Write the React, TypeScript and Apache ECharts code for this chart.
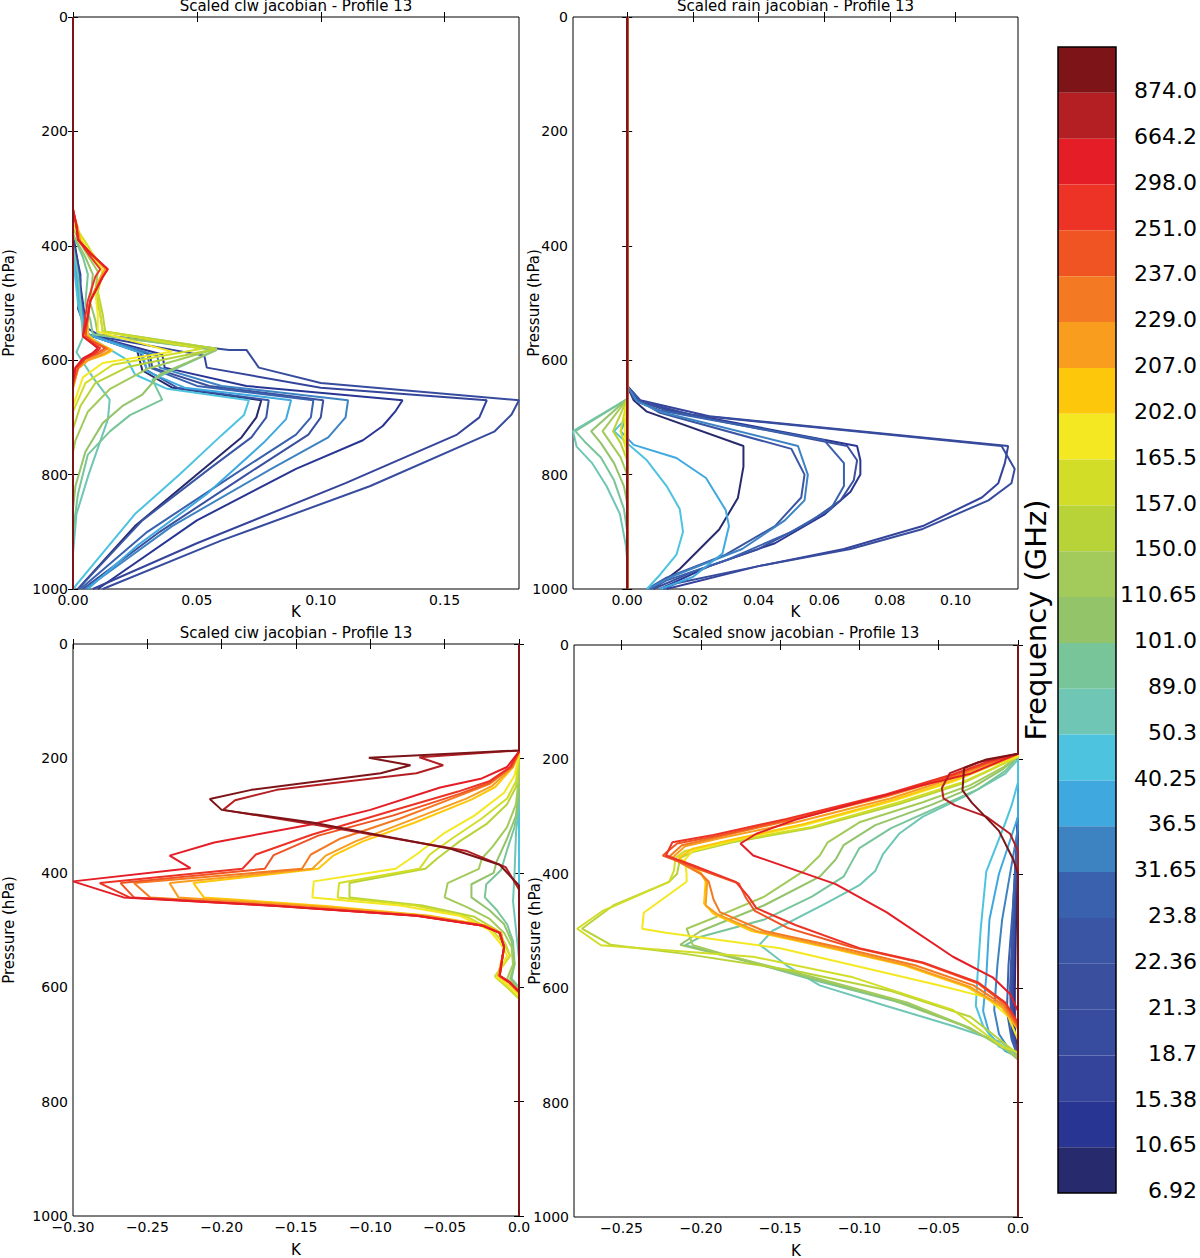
import React, { useEffect, useRef } from 'react';
import * as echarts from 'echarts';

// ---------------- data ----------------
// channel index 0 = 6.92 GHz ... 24 = 874.0 GHz
const freqLabels = ['6.92', '10.65', '15.38', '18.7', '21.3', '22.36', '23.8', '31.65', '36.5', '40.25', '50.3', '89.0', '101.0', '110.65', '150.0', '157.0', '165.5', '202.0', '207.0', '229.0', '237.0', '251.0', '298.0', '664.2', '874.0'];
const channelColors = ['#272a6c', '#283593', '#34449b', '#374c9e', '#3a509e', '#3a55a4', '#3a61ad', '#3d83c2', '#3fa9df', '#4dc3df', '#6fc6b5', '#79c59a', '#93c46a', '#a2cb5b', '#b8d337', '#d2dd28', '#f3e822', '#fdc70b', '#f89d1e', '#f37a22', '#f05423', '#ec3325', '#e41d26', '#b41f24', '#7d1418'];

const pressureTicks = [0, 200, 400, 600, 800, 1000];
const clwTicks = [0, 0.05, 0.1, 0.15];
const rainTicks = [0, 0.02, 0.04, 0.06, 0.08, 0.1];
const ciwTicks = [-0.3, -0.25, -0.2, -0.15, -0.1, -0.05, 0];
const snowTicks = [-0.25, -0.2, -0.15, -0.1, -0.05, 0];

type Prof = number[][]; // [K, hPa]

const clwProfiles: Prof[] = [
  [[0, 380], [0.002, 430], [0.003, 480], [0.004, 520], [0.006, 555], [0.026, 585], [0.028, 618], [0.040, 648], [0.076, 670], [0.074, 700], [0.068, 735], [0.050, 800], [0.025, 890], [0.002, 1000]],
  [[0, 390], [0.002, 440], [0.004, 500], [0.005, 530], [0.006, 555], [0.036, 590], [0.037, 613], [0.070, 645], [0.133, 670], [0.130, 690], [0.125, 715], [0.117, 740], [0.090, 790], [0.050, 880], [0.010, 1000]],
  [[0, 390], [0.003, 450], [0.003, 500], [0.005, 535], [0.006, 555], [0.053, 592], [0.054, 613], [0.100, 648], [0.167, 670], [0.164, 700], [0.155, 730], [0.110, 815], [0.050, 920], [0.008, 1000]],
  [[0, 390], [0.002, 450], [0.004, 510], [0.006, 545], [0.010, 555], [0.063, 582], [0.070, 582], [0.075, 613], [0.100, 640], [0.180, 670], [0.177, 695], [0.170, 725], [0.120, 820], [0.060, 915], [0.012, 1000]],
  [[0, 400], [0.002, 450], [0.003, 500], [0.006, 555], [0.031, 590], [0.032, 613], [0.055, 645], [0.101, 670], [0.100, 700], [0.095, 730], [0.070, 800], [0.035, 900], [0.004, 1000]],
  [[0, 400], [0.003, 460], [0.002, 510], [0.006, 555], [0.027, 585], [0.030, 618], [0.042, 648], [0.079, 670], [0.078, 700], [0.072, 735], [0.055, 790], [0.028, 880], [0.002, 1000]],
  [[0, 400], [0.002, 470], [0.004, 520], [0.006, 555], [0.030, 588], [0.031, 613], [0.050, 645], [0.097, 670], [0.096, 700], [0.090, 730], [0.065, 800], [0.030, 900], [0.003, 1000]],
  [[0, 410], [0.002, 470], [0.004, 520], [0.006, 555], [0.034, 592], [0.035, 613], [0.060, 645], [0.111, 670], [0.110, 700], [0.103, 735], [0.080, 790], [0.040, 890], [0.005, 1000]],
  [[0, 410], [0.002, 480], [0.004, 530], [0.006, 555], [0.028, 588], [0.030, 620], [0.045, 648], [0.088, 670], [0.086, 703], [0.077, 744], [0.054, 834], [0.026, 924], [0.006, 1000]],
  [[0, 420], [0.002, 500], [0.004, 540], [0.006, 558], [0.022, 600], [0.025, 625], [0.038, 650], [0.071, 670], [0.069, 696], [0.060, 731], [0.043, 800], [0.025, 869], [0.008, 958], [0, 1000]],
  [[0, 400], [0.002, 450], [0.003, 500], [0.004, 560], [0.0014, 586], [0.008, 630], [0.0148, 669], [0.0141, 703], [0.0063, 800], [0.0014, 869], [0, 938]],
  [[0, 380], [0.004, 420], [0.006, 450], [0.005, 500], [0.007, 530], [0.008, 555], [0.058, 582], [0.032, 634], [0.036, 669], [0.023, 696], [0.015, 724], [0.006, 765], [0.002, 834], [0, 900]],
  [[0, 380], [0.005, 420], [0.008, 450], [0.007, 500], [0.009, 530], [0.010, 555], [0.058, 582], [0.035, 625], [0.028, 660], [0.020, 680], [0.012, 710], [0.005, 760], [0.001, 820], [0, 860]],
  [[0, 370], [0.005, 410], [0.010, 445], [0.009, 480], [0.011, 520], [0.012, 550], [0.058, 580], [0.030, 615], [0.015, 650], [0.006, 690], [0.001, 740], [0, 760]],
  [[0, 370], [0.006, 410], [0.012, 445], [0.010, 480], [0.012, 520], [0.013, 550], [0.058, 580], [0.022, 612], [0.009, 640], [0.003, 680], [0, 720]],
  [[0, 360], [0.006, 400], [0.012, 445], [0.010, 480], [0.011, 520], [0.012, 550], [0.052, 580], [0.016, 608], [0.005, 640], [0, 690]],
  [[0, 360], [0.005, 400], [0.012, 445], [0.009, 480], [0.010, 520], [0.010, 550], [0.040, 585], [0.012, 605], [0.004, 630], [0, 680]],
  [[0, 340], [0.002, 370], [0.003, 395], [0.008, 415], [0.013, 441], [0.011, 456], [0.007, 496], [0.006, 523], [0.006, 555], [0.009, 567], [0.016, 583], [0.013, 590], [0.006, 600], [0.002, 615], [0, 650]],
  [[0, 340], [0.002, 370], [0.003, 395], [0.008, 415], [0.013, 441], [0.011, 456], [0.007, 496], [0.006, 523], [0.005, 555], [0.008, 567], [0.015, 583], [0.012, 590], [0.006, 600], [0.002, 615], [0, 648]],
  [[0, 338], [0.0015, 368], [0.0025, 392], [0.007, 414], [0.014, 441], [0.012, 455], [0.007, 496], [0.006, 523], [0.005, 557], [0.008, 567], [0.014, 580], [0.011, 588], [0.005, 598], [0.002, 614], [0, 645]],
  [[0, 337], [0.0014, 365], [0.002, 389], [0.007, 413], [0.014, 441], [0.012, 454], [0.007, 496], [0.006, 523], [0.005, 558], [0.007, 565], [0.013, 579], [0.010, 587], [0.005, 597], [0.002, 613], [0, 640]],
  [[0, 337], [0.0014, 365], [0.002, 389], [0.006, 413], [0.011, 441], [0.009, 454], [0.006, 496], [0.005, 523], [0.004, 558], [0.006, 565], [0.011, 579], [0.009, 587], [0.005, 597], [0.001, 613], [0, 640]],
  [[0, 335], [0.0014, 365], [0.002, 389], [0.007, 413], [0.014, 441], [0.012, 454], [0.007, 496], [0.006, 523], [0.004, 558], [0.006, 565], [0.010, 579], [0.008, 587], [0.004, 597], [0.001, 613], [0, 635]],
  [],
  [],
];

const rainProfiles: Prof[] = [
  [[0, 645], [0.002, 670], [0.006, 690], [0.0354, 750], [0.0354, 786], [0.0337, 841], [0.028, 896], [0.016, 965], [0.008, 1000]],
  [[0, 645], [0.003, 670], [0.015, 690], [0.070, 750], [0.071, 775], [0.071, 800], [0.068, 830], [0.060, 870], [0.045, 920], [0.025, 960], [0.010, 1000]],
  [[0, 645], [0.004, 670], [0.025, 698], [0.116, 750], [0.115, 780], [0.113, 815], [0.108, 840], [0.090, 890], [0.066, 930], [0.040, 960], [0.012, 1000]],
  [[0, 645], [0.002, 668], [0.020, 696], [0.114, 750], [0.118, 790], [0.117, 815], [0.110, 845], [0.090, 895], [0.068, 930], [0.040, 960], [0.015, 990], [0.011, 1000]],
  [[0, 645], [0.004, 672], [0.012, 688], [0.067, 750], [0.070, 775], [0.069, 810], [0.065, 845], [0.055, 885], [0.040, 930], [0.020, 970], [0.008, 1000]],
  [[0, 645], [0.004, 672], [0.010, 692], [0.050, 755], [0.054, 800], [0.053, 840], [0.045, 890], [0.030, 940], [0.012, 980], [0.006, 1000]],
  [[0, 645], [0.003, 672], [0.010, 688], [0.060, 740], [0.066, 780], [0.066, 820], [0.062, 860], [0.050, 900], [0.030, 950], [0.012, 985], [0.007, 1000]],
  [[0, 645], [0.003, 672], [0.010, 690], [0.052, 750], [0.055, 800], [0.054, 845], [0.048, 880], [0.035, 930], [0.015, 975], [0.006, 1000]],
  [[0, 700], [-0.002, 724], [0.002, 748], [0.015, 771], [0.024, 806], [0.030, 862], [0.031, 890], [0.029, 938], [0.020, 979], [0.010, 1000]],
  [[0, 700], [-0.004, 724], [0.0, 745], [0.006, 775], [0.012, 820], [0.016, 860], [0.017, 900], [0.015, 940], [0.010, 975], [0.006, 1000]],
  [[0, 668], [-0.0165, 724], [-0.0154, 751], [-0.0108, 779], [-0.0063, 820], [-0.0022, 869], [-0.0004, 924], [0, 950]],
  [[0, 668], [-0.0158, 724], [-0.013, 742], [-0.008, 770], [-0.004, 810], [-0.001, 860], [0, 900]],
  [[0, 668], [-0.011, 724], [-0.008, 745], [-0.004, 780], [-0.001, 820], [0, 850]],
  [[0, 668], [-0.0075, 724], [-0.005, 745], [-0.002, 770], [0, 800]],
  [[0, 668], [-0.0043, 724], [-0.002, 745], [0, 775]],
  [[0, 668], [-0.002, 724], [0, 760]],
  [[0, 660], [-0.0008, 720], [0, 780]],
  [], [], [], [], [], [], [], [],
];

const ciwProfiles: Prof[] = [
  [], [], [], [], [], [], [], [], [], [],
  [[0, 280], [-0.002, 330], [-0.003, 400], [-0.004, 450], [-0.002, 500], [0, 550]],
  [[0, 270], [-0.003, 320], [-0.008, 360], [-0.012, 395], [-0.022, 420], [-0.023, 443], [-0.015, 465], [-0.008, 490], [-0.004, 520], [-0.003, 560], [-0.005, 585], [0, 600]],
  [[0, 250], [-0.002, 300], [-0.008, 340], [-0.015, 380], [-0.017, 400], [-0.032, 420], [-0.032, 443], [-0.020, 465], [-0.010, 490], [-0.005, 520], [-0.003, 560], [-0.006, 585], [0, 605]],
  [[0, 230], [-0.002, 280], [-0.008, 320], [-0.018, 355], [-0.025, 375], [-0.027, 393], [-0.048, 418], [-0.050, 443], [-0.035, 460], [-0.020, 480], [-0.010, 505], [-0.005, 530], [-0.004, 560], [-0.008, 585], [0, 610]],
  [[0, 200], [-0.002, 250], [-0.008, 280], [-0.022, 315], [-0.040, 345], [-0.055, 375], [-0.063, 393], [-0.114, 418], [-0.114, 443], [-0.065, 457], [-0.030, 477], [-0.015, 500], [-0.009, 525], [-0.006, 545], [-0.016, 580], [-0.008, 600], [0, 620]],
  [[0, 195], [-0.002, 240], [-0.008, 270], [-0.025, 305], [-0.045, 340], [-0.060, 368], [-0.067, 393], [-0.121, 418], [-0.122, 443], [-0.070, 457], [-0.035, 477], [-0.018, 500], [-0.010, 525], [-0.006, 545], [-0.016, 582], [-0.008, 600], [0, 620]],
  [[0, 195], [-0.003, 230], [-0.010, 260], [-0.030, 300], [-0.050, 330], [-0.069, 368], [-0.083, 393], [-0.138, 415], [-0.139, 443], [-0.080, 457], [-0.040, 475], [-0.020, 500], [-0.012, 525], [-0.008, 545], [-0.015, 582], [-0.008, 595], [0, 615]],
  [[0, 190], [-0.004, 215], [-0.016, 250], [-0.032, 272], [-0.070, 312], [-0.105, 345], [-0.125, 370], [-0.135, 393], [-0.219, 418], [-0.212, 443], [-0.130, 458], [-0.060, 475], [-0.022, 492], [-0.012, 505], [-0.010, 530], [-0.011, 545], [-0.014, 580], [-0.007, 592], [0, 610]],
  [[0, 190], [-0.004, 215], [-0.018, 248], [-0.035, 270], [-0.075, 310], [-0.110, 345], [-0.130, 370], [-0.139, 393], [-0.235, 418], [-0.229, 443], [-0.140, 458], [-0.062, 475], [-0.023, 492], [-0.012, 505], [-0.010, 530], [-0.011, 545], [-0.014, 580], [-0.007, 592], [0, 610]],
  [[0, 188], [-0.005, 215], [-0.020, 245], [-0.040, 265], [-0.080, 305], [-0.120, 340], [-0.140, 368], [-0.146, 393], [-0.259, 418], [-0.248, 443], [-0.155, 458], [-0.066, 475], [-0.024, 492], [-0.013, 505], [-0.010, 530], [-0.011, 545], [-0.013, 580], [-0.006, 592], [0, 608]],
  [[0, 188], [-0.005, 215], [-0.020, 243], [-0.040, 262], [-0.085, 300], [-0.135, 335], [-0.165, 369], [-0.171, 393], [-0.268, 418], [-0.259, 443], [-0.160, 458], [-0.068, 475], [-0.025, 492], [-0.013, 505], [-0.010, 530], [-0.011, 545], [-0.013, 580], [-0.006, 592], [0, 608]],
  [[0, 188], [-0.006, 215], [-0.020, 240], [-0.041, 258], [-0.090, 295], [-0.139, 333], [-0.177, 368], [-0.186, 393], [-0.282, 418], [-0.262, 443], [-0.162, 458], [-0.069, 475], [-0.025, 492], [-0.013, 505], [-0.010, 530], [-0.011, 545], [-0.013, 580], [-0.006, 592], [0, 608]],
  [[0, 188], [-0.008, 215], [-0.025, 235], [-0.053, 251], [-0.100, 290], [-0.139, 315], [-0.205, 347], [-0.235, 370], [-0.221, 392], [-0.300, 415], [-0.266, 443], [-0.163, 458], [-0.069, 475], [-0.025, 492], [-0.013, 505], [-0.010, 530], [-0.011, 545], [-0.013, 580], [-0.006, 592], [0, 608]],
  [[0, 186], [-0.067, 198], [-0.051, 212], [-0.069, 226], [-0.163, 255], [-0.191, 273], [-0.199, 290], [-0.139, 315], [-0.035, 362], [-0.009, 390], [0, 429]],
  [[0, 186], [-0.101, 199], [-0.073, 212], [-0.093, 226], [-0.180, 255], [-0.208, 271], [-0.200, 290], [-0.139, 312], [-0.046, 358], [-0.013, 386], [0, 422]],
];

const snowProfiles: Prof[] = [
  [[0, 300], [-0.001, 450], [-0.002, 600], [-0.002, 680], [0, 720]],
  [[0, 300], [-0.0015, 450], [-0.003, 600], [-0.002, 680], [0, 720]],
  [[0, 300], [-0.002, 450], [-0.003, 600], [-0.003, 680], [0, 720]],
  [[0, 300], [-0.002, 450], [-0.004, 600], [-0.003, 680], [0, 720]],
  [[0, 300], [-0.002, 450], [-0.004, 600], [-0.003, 680], [0, 720]],
  [[0, 300], [-0.003, 450], [-0.005, 600], [-0.004, 680], [0, 720]],
  [[0, 320], [-0.003, 450], [-0.006, 560], [-0.007, 640], [-0.004, 690], [0, 720]],
  [[0, 320], [-0.005, 400], [-0.010, 480], [-0.013, 560], [-0.015, 638], [-0.012, 680], [-0.005, 710], [0, 720]],
  [[0, 300], [-0.006, 350], [-0.012, 400], [-0.018, 480], [-0.020, 580], [-0.022, 640], [-0.018, 680], [-0.008, 710], [0, 720]],
  [[0, 240], [-0.004, 280], [-0.008, 311], [-0.020, 396], [-0.0235, 496], [-0.0256, 581], [-0.0266, 631], [-0.022, 666], [-0.012, 702], [0, 716]],
  [[0, 200], [-0.008, 225], [-0.030, 260], [-0.060, 300], [-0.075, 330], [-0.085, 365], [-0.090, 395], [-0.100, 420], [-0.120, 450], [-0.155, 500], [-0.163, 524], [-0.146, 560], [-0.125, 595], [-0.083, 631], [-0.041, 666], [-0.010, 695], [0, 720]],
  [[0, 195], [-0.008, 220], [-0.025, 252], [-0.050, 283], [-0.080, 320], [-0.100, 355], [-0.105, 380], [-0.110, 405], [-0.130, 440], [-0.160, 480], [-0.200, 510], [-0.210, 525], [-0.180, 545], [-0.130, 585], [-0.070, 628], [-0.030, 670], [0, 720]],
  [[0, 195], [-0.010, 218], [-0.028, 248], [-0.055, 280], [-0.090, 315], [-0.110, 350], [-0.115, 375], [-0.125, 405], [-0.160, 455], [-0.200, 500], [-0.213, 524], [-0.190, 540], [-0.140, 575], [-0.080, 620], [-0.035, 665], [-0.010, 700], [0, 725]],
  [[0, 195], [-0.010, 215], [-0.030, 245], [-0.060, 275], [-0.100, 310], [-0.120, 345], [-0.125, 368], [-0.135, 395], [-0.160, 440], [-0.190, 475], [-0.209, 496], [-0.205, 525], [-0.180, 545], [-0.130, 580], [-0.070, 625], [-0.030, 670], [0, 720]],
  [[0, 195], [-0.015, 215], [-0.035, 242], [-0.075, 278], [-0.130, 320], [-0.180, 345], [-0.205, 362], [-0.213, 372], [-0.215, 400], [-0.220, 414], [-0.255, 455], [-0.275, 496], [-0.257, 524], [-0.210, 540], [-0.140, 570], [-0.080, 605], [-0.030, 650], [0, 715]],
  [[0, 195], [-0.015, 215], [-0.035, 240], [-0.075, 275], [-0.130, 318], [-0.180, 343], [-0.210, 360], [-0.216, 372], [-0.217, 395], [-0.220, 414], [-0.262, 465], [-0.278, 496], [-0.263, 525], [-0.167, 545], [-0.104, 581], [-0.041, 638], [-0.010, 702], [0, 712]],
  [[0, 195], [-0.018, 212], [-0.040, 238], [-0.078, 272], [-0.135, 315], [-0.180, 342], [-0.205, 360], [-0.210, 375], [-0.209, 400], [-0.209, 414], [-0.236, 468], [-0.237, 496], [-0.222, 503], [-0.150, 530], [-0.104, 560], [-0.050, 595], [-0.020, 616], [-0.006, 650], [0, 690]],
  [[0, 192], [-0.018, 212], [-0.040, 236], [-0.078, 270], [-0.135, 313], [-0.180, 340], [-0.205, 356], [-0.214, 372], [-0.200, 398], [-0.197, 414], [-0.198, 452], [-0.192, 470], [-0.168, 500], [-0.118, 530], [-0.072, 560], [-0.032, 598], [-0.010, 634], [0, 672]],
  [[0, 190], [-0.020, 210], [-0.040, 232], [-0.080, 268], [-0.140, 310], [-0.188, 338], [-0.210, 352], [-0.218, 372], [-0.200, 400], [-0.196, 414], [-0.197, 455], [-0.190, 470], [-0.165, 500], [-0.115, 530], [-0.070, 560], [-0.030, 598], [-0.010, 632], [0, 670]],
  [[0, 190], [-0.020, 208], [-0.041, 230], [-0.083, 265], [-0.146, 308], [-0.190, 336], [-0.212, 350], [-0.220, 370], [-0.200, 400], [-0.195, 414], [-0.192, 445], [-0.188, 467], [-0.160, 500], [-0.110, 530], [-0.065, 560], [-0.028, 595], [-0.009, 630], [0, 668]],
  [[0, 190], [-0.020, 207], [-0.041, 228], [-0.083, 263], [-0.146, 306], [-0.190, 334], [-0.215, 347], [-0.224, 368], [-0.205, 388], [-0.176, 417], [-0.172, 440], [-0.166, 465], [-0.145, 495], [-0.105, 528], [-0.060, 556], [-0.025, 592], [-0.008, 628], [0, 665]],
  [[0, 190], [-0.020, 205], [-0.041, 226], [-0.083, 261], [-0.146, 304], [-0.192, 332], [-0.218, 345], [-0.222, 368], [-0.205, 385], [-0.178, 414], [-0.170, 440], [-0.165, 460], [-0.140, 490], [-0.100, 530], [-0.060, 555], [-0.025, 590], [-0.008, 625], [0, 660]],
  [[0, 190], [-0.030, 225], [-0.060, 245], [-0.100, 275], [-0.140, 305], [-0.165, 330], [-0.175, 347], [-0.167, 368], [-0.115, 418], [-0.083, 467], [-0.041, 545], [-0.016, 581], [-0.005, 610], [0, 640]],
  [[0, 190], [-0.025, 205], [-0.043, 224], [-0.048, 250], [-0.047, 268], [-0.040, 280], [-0.020, 300], [-0.005, 330], [0, 360]],
  [[0, 190], [-0.020, 200], [-0.034, 215], [-0.035, 254], [-0.029, 276], [-0.012, 325], [-0.003, 375], [0, 400]],
];

const panelTitles = ['Scaled clw jacobian - Profile 13', 'Scaled rain jacobian - Profile 13', 'Scaled ciw jacobian - Profile 13', 'Scaled snow jacobian - Profile 13'];
const panelRanges = [[0, 0.18], [-0.0165, 0.119], [-0.3, 0], [-0.28, 0]];
const panelTicks = [clwTicks, rainTicks, ciwTicks, snowTicks];
const panelProfiles = [clwProfiles, rainProfiles, ciwProfiles, snowProfiles];

// ---------------- layout ----------------
const layout = [
  { left: 73, top: 17, width: 446, height: 572, yGap: 57, kGap: 15, titleY: 6 },
  { left: 573, top: 17, width: 445, height: 572, yGap: 32, kGap: 15, titleY: 6 },
  { left: 73, top: 644, width: 446, height: 572, yGap: 57, kGap: 26, titleY: 632.5 },
  { left: 574, top: 645, width: 444, height: 572, yGap: 32, kGap: 26, titleY: 632.5 },
];

const FONT = 'DejaVu Sans';

function fmtPos(v: number) {
  return v.toFixed(2);
}
function fmtNeg(v: number) {
  if (Math.abs(v) < 1e-9) return '0.0';
  return (v < 0 ? '\u2212' : '') + Math.abs(v).toFixed(2);
}

function closeProfile(pts: Prof): Prof {
  const d = pts.map((p) => [p[0], p[1]]);
  if (d.length === 0 || d[0][1] > 0) d.unshift([0, 0]);
  if (d[d.length - 1][1] < 1000) d.push([0, 1000]);
  return d;
}

function buildOption() {
  const grid: any[] = [];
  const xAxis: any[] = [];
  const yAxis: any[] = [];
  const series: any[] = [];
  const graphic: any[] = [];

  const tickStyle = { inside: true, length: 5, lineStyle: { color: '#000', width: 1 } };

  layout.forEach((L, i) => {
    grid.push({ left: L.left, top: L.top, width: L.width, height: L.height, show: true, borderColor: '#000', borderWidth: 1, backgroundColor: 'transparent', containLabel: false, outerBoundsMode: 'none' });
    const [mn, mx] = panelRanges[i];
    const ticks = panelTicks[i];
    const fmt = i < 2 ? fmtPos : fmtNeg;
    xAxis.push({
      gridIndex: i, type: 'value', min: mn, max: mx, position: 'bottom',
      axisLine: { show: false }, splitLine: { show: false },
      axisTick: { ...tickStyle, customValues: ticks },
      axisLabel: { customValues: ticks, formatter: (v: number) => fmt(v), fontSize: 14, color: '#000', margin: 4, fontFamily: FONT },
      name: 'K', nameLocation: 'middle', nameGap: L.kGap, nameMoveOverlap: false,
      nameTextStyle: { fontSize: 15, color: '#000', fontFamily: FONT },
    });
    xAxis.push({
      gridIndex: i, type: 'value', min: mn, max: mx, position: 'top',
      axisLine: { show: false }, splitLine: { show: false },
      axisTick: { ...tickStyle, customValues: ticks },
      axisLabel: { show: false },
    });
    yAxis.push({
      gridIndex: i, type: 'value', min: 0, max: 1000, interval: 200, inverse: true, position: 'left',
      axisLine: { show: false }, splitLine: { show: false },
      axisTick: { ...tickStyle, customValues: pressureTicks },
      axisLabel: { customValues: pressureTicks, formatter: (v: number) => String(Math.round(v)), fontSize: 14, color: '#000', margin: 5, fontFamily: FONT },
      name: 'Pressure (hPa)', nameLocation: 'middle', nameGap: L.yGap, nameMoveOverlap: false,
      nameTextStyle: { fontSize: 15, color: '#000', fontFamily: FONT },
    });
    yAxis.push({
      gridIndex: i, type: 'value', min: 0, max: 1000, interval: 200, inverse: true, position: 'right',
      axisLine: { show: false }, splitLine: { show: false },
      axisTick: { ...tickStyle, customValues: pressureTicks },
      axisLabel: { show: false },
    });
    panelProfiles[i].forEach((pts, ch) => {
      series.push({
        type: 'line', xAxisIndex: 2 * i, yAxisIndex: 2 * i,
        name: freqLabels[ch] + '_' + i,
        data: closeProfile(pts), showSymbol: false, symbol: 'none', clip: false,
        lineStyle: { color: channelColors[ch], width: 2 },
        silent: true, z: 2,
      });
    });
    graphic.push({
      type: 'text', x: L.left + L.width / 2, y: L.titleY,
      style: { text: panelTitles[i], fontSize: 15, fontFamily: FONT, fill: '#000', textAlign: 'center', textVerticalAlign: 'middle' },
    });
  });

  // colorbar
  const topDownLabels = freqLabels.slice().reverse();
  const topDownColors = channelColors.slice().reverse();
  const cbIndex = grid.length;
  grid.push({ left: 1058, top: 47, width: 58, height: 1146, show: true, borderColor: '#000', borderWidth: 1.5, backgroundColor: 'transparent', containLabel: false, outerBoundsMode: 'none', z: 5 });
  const cbX = xAxis.length;
  xAxis.push({ gridIndex: cbIndex, type: 'value', min: 0, max: 1, show: false });
  const cbY = yAxis.length;
  yAxis.push({
    gridIndex: cbIndex, type: 'category', data: topDownLabels, inverse: true, position: 'left',
    axisLine: { show: false }, axisTick: { show: false }, axisLabel: { show: false }, splitLine: { show: false },
    name: 'Frequency (GHz)', nameLocation: 'middle', nameGap: 8, nameMoveOverlap: false,
    nameTextStyle: { fontSize: 29, color: '#000', fontFamily: FONT },
  });
  const labelPos = topDownLabels.map((_, k) => k + 1 - 0.05);
  yAxis.push({
    gridIndex: cbIndex, type: 'value', min: 0, max: 25, inverse: true, position: 'right',
    axisLine: { show: false }, axisTick: { show: false }, splitLine: { show: false },
    axisLabel: {
      customValues: labelPos, align: 'right', margin: 81, fontSize: 22, color: '#000', fontFamily: FONT,
      formatter: (v: number) => topDownLabels[Math.round(v) - 1] ?? '',
    },
  });
  series.push({
    type: 'bar', xAxisIndex: cbX, yAxisIndex: cbY, barWidth: '100%', barCategoryGap: '0%', silent: true,
    data: topDownColors.map((c) => ({ value: 1, itemStyle: { color: c } })),
  });

  return {
    animation: false,
    backgroundColor: '#fff',
    textStyle: { fontFamily: FONT },
    grid, xAxis, yAxis, series, graphic,
  };
}

export default function App() {
  const ref = useRef<HTMLDivElement>(null);
  useEffect(() => {
    if (!ref.current) return;
    const chart = echarts.init(ref.current, undefined, { renderer: 'svg' });
    chart.setOption(buildOption() as any);
    return () => chart.dispose();
  }, []);
  return (
    <div
      ref={ref}
      style={{ position: 'absolute', left: 0, top: 0, width: 1200, height: 1258, background: '#fff' }}
    />
  );
}
